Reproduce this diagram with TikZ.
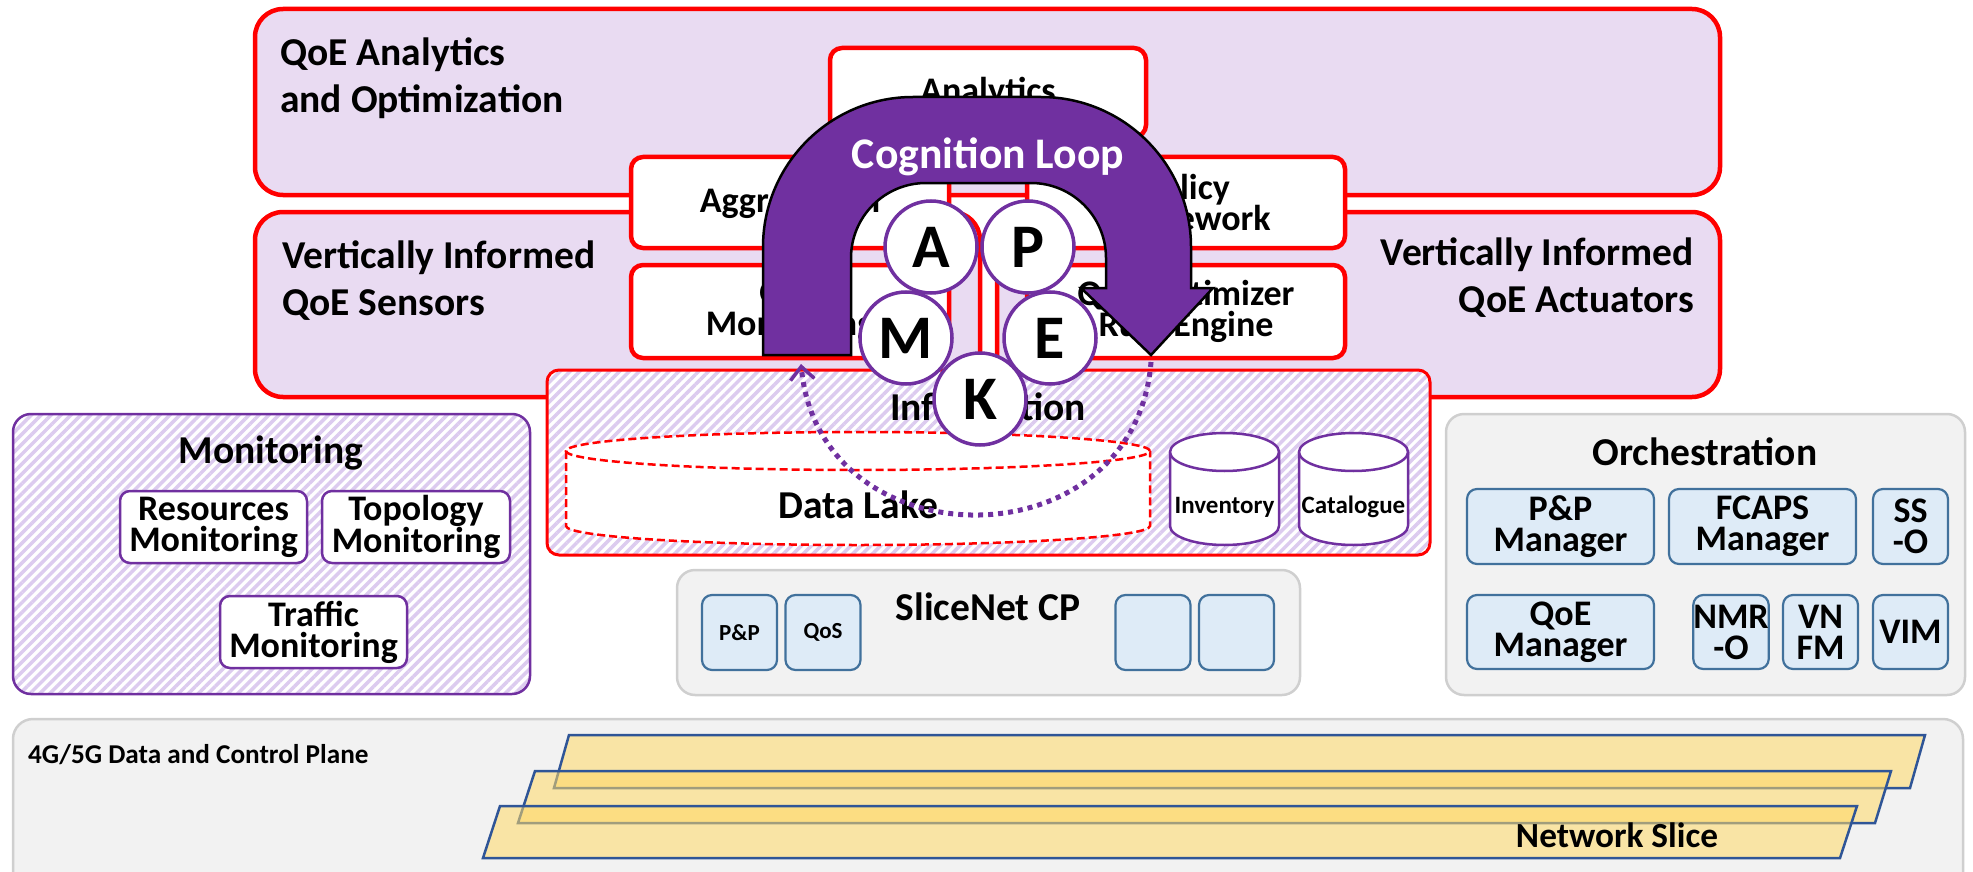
\documentclass[tikz,border=0pt]{standalone}
\usepackage{fontspec}
\setmainfont{Carlito}
\usetikzlibrary{patterns.meta,arrows.meta}
\definecolor{qred}{HTML}{FF0000}
\definecolor{lav}{HTML}{E9DBF2}
\definecolor{hatch}{HTML}{DCCBEF}
\definecolor{qpurple}{HTML}{7030A0}
\definecolor{gfill}{HTML}{F2F2F2}
\definecolor{gborder}{HTML}{CFCFCF}
\definecolor{lblue}{HTML}{DEEBF7}
\definecolor{qblue}{HTML}{41719C}
\definecolor{sliceyel}{HTML}{FFD966}
\definecolor{sliceblue}{HTML}{2F5597}
\newcommand\mycyl[6]{%
  \path[#6] ({#1-#4},#2) -- ({#1-#4},#3) .. controls ({#1-#4},{#3+0.5523*#5}) and ({#1-0.5523*#4},{#3+#5}) .. (#1,{#3+#5}) .. controls ({#1+0.5523*#4},{#3+#5}) and ({#1+#4},{#3+0.5523*#5}) .. ({#1+#4},#3) -- ({#1+#4},#2);
  \path[#6] (#1,#2) ellipse [x radius=#4pt, y radius=#5pt];}
\begin{document}
\begin{tikzpicture}[x=1pt,y=-1pt,
  bigfont/.style={font=\fontsize{39.5}{47}\selectfont\bfseries},
  boxfont/.style={font=\fontsize{36}{31}\selectfont\bfseries},
  layerbox/.style={draw=qred, line width=4.5pt, fill=lav, rounded corners=28pt, inner sep=0pt},
  wbox/.style={draw=qred, line width=4.5pt, fill=white, rounded corners=12pt, boxfont, align=center, inner sep=0pt},
  hatchfill/.style={preaction={fill=white}, pattern={Lines[angle=45,distance=7pt,line width=3.5pt]}, pattern color=hatch},
  pbox/.style={draw=qpurple, line width=2.5pt, fill=white, rounded corners=10pt, boxfont, align=center, inner sep=0pt},
  bbox/.style={draw=qblue, line width=2.2pt, fill=lblue, rounded corners=10pt, boxfont, align=center, inner sep=0pt},
  graybox/.style={draw=gborder, line width=2.5pt, fill=gfill, rounded corners=18pt, inner sep=0pt},
  letter/.style={circle, draw=qpurple, line width=3.5pt, fill=white, minimum size=92pt, inner sep=0pt, font=\fontsize{62}{62}\selectfont\bfseries},
  slice/.style={fill=sliceyel, fill opacity=0.55, draw=sliceblue, line width=2.5pt},
  dotarrow/.style={draw=qpurple, line width=5pt, dash pattern=on 5pt off 5pt, -{Straight Barb[length=13pt,width=24pt,line width=3.5pt]}}
]
\useasboundingbox (0,0) rectangle (1973,872);
% layers
\node[layerbox, minimum width=1465pt, minimum height=186pt] (qoeao) at (987.5,102) {};
\node[layerbox, minimum width=725pt, minimum height=185pt] (sens) at (617.5,304.5) {};
\node[layerbox, minimum width=723pt, minimum height=185pt] (act) at (1358.5,304.5) {};
\node[bigfont, align=left, anchor=west, inner sep=0pt] (qoeaot) at (280,78) {QoE Analytics\\and Optimization};
\node[bigfont, align=left, anchor=west, inner sep=0pt] (senst) at (282,281) {Vertically Informed\\QoE Sensors};
\node[bigfont, align=right, anchor=east, inner sep=0pt] (actt) at (1694,278) {Vertically Informed\\QoE Actuators};
% white function boxes
\node[wbox, minimum width=316pt, minimum height=89pt] (anl) at (988,92.5) {Analytics};
\node[wbox, minimum width=318pt, minimum height=91pt] (agg) at (790,202.5) {Aggregation};
\node[wbox, minimum width=318pt, minimum height=91pt] (pol) at (1186,202.5) {Policy\\Framework};
\node[wbox, minimum width=318pt, minimum height=93pt] (qmon) at (790,311.5) {QoE\\Monitoring};
\node[wbox, minimum width=318pt, minimum height=93pt] (qopt) at (1186,311.5) {QoE Optimizer\\Rule Engine};
% information
\node[draw=qred, line width=3pt, rounded corners=12pt, hatchfill, minimum width=883pt, minimum height=185pt, inner sep=0pt] (infobox) at (988.5,462.5) {};
\node[bigfont, inner sep=0pt] (info) at (988,407) {Information};
\mycyl{858}{451}{526}{292}{19}{draw=qred, line width=2.5pt, dash pattern=on 8pt off 4pt, fill=white}
\mycyl{1224.5}{452}{526}{54.5}{19}{draw=qpurple, line width=2.5pt, fill=white}
\mycyl{1353.5}{452}{526}{54.5}{19}{draw=qpurple, line width=2.5pt, fill=white}
\node[font=\fontsize{39.5}{40}\selectfont\bfseries, inner sep=0pt] (dlake) at (858,505) {Data Lake};
\node[font=\fontsize{25}{25}\selectfont\bfseries, inner sep=0pt] (inv) at (1224.5,507) {Inventory};
\node[font=\fontsize{25}{25}\selectfont\bfseries, inner sep=0pt] (cat) at (1353.5,507) {Catalogue};
% monitoring
\node[draw=qpurple, line width=2.5pt, rounded corners=18pt, hatchfill, minimum width=517pt, minimum height=280pt, inner sep=0pt] (mon) at (271.5,554) {};
\node[bigfont, inner sep=0pt] (mont) at (271,453) {Monitoring};
\node[pbox, minimum width=187pt, minimum height=72pt] (resm) at (213.5,527) {Resources\\Monitoring};
\node[pbox, minimum width=188pt, minimum height=72pt] (topm) at (416,527) {Topology\\Monitoring};
\node[pbox, minimum width=187pt, minimum height=72pt] (trm) at (313.5,632) {Traffic\\Monitoring};
% orchestration
\node[graybox, minimum width=519pt, minimum height=281pt] (orch) at (1705.5,554.5) {};
\node[bigfont, inner sep=0pt] (orcht) at (1705,452) {Orchestration};
\node[bbox, minimum width=187pt, minimum height=75pt] (ppm) at (1560.5,526.5) {P\&P\\Manager};
\node[bbox, minimum width=187pt, minimum height=75pt] (fcaps) at (1762.5,526.5) {FCAPS\\Manager};
\node[bbox, minimum width=75pt, minimum height=75pt] (sso) at (1910.5,526.5) {SS\\-O};
\node[bbox, minimum width=187pt, minimum height=74pt] (qoem) at (1560.5,632) {QoE\\Manager};
\node[bbox, minimum width=74pt, minimum height=74pt] (nmro) at (1731,632) {NMR\\-O};
\node[bbox, minimum width=75pt, minimum height=74pt] (vnfm) at (1820.5,632) {VN\\FM};
\node[bbox, minimum width=75pt, minimum height=74pt] (vim) at (1910.5,632) {VIM};
% slicenet cp
\node[graybox, minimum width=623pt, minimum height=125pt] (cp) at (988.5,632.5) {};
\node[bigfont, inner sep=0pt] (cpt) at (988,607) {SliceNet CP};
\node[bbox, font=\fontsize{23}{23}\selectfont\bfseries, minimum width=75pt, minimum height=75pt] (cpp) at (739.5,632.5) {P\&P};
\node[bbox, font=\fontsize{23}{23}\selectfont\bfseries, minimum width=75pt, minimum height=75pt] (cqos) at (823,632.5) {QoS};
\node[bbox, minimum width=75pt, minimum height=75pt] (ce1) at (1153,632.5) {};
\node[bbox, minimum width=75pt, minimum height=75pt] (ce2) at (1236.5,632.5) {};
% data plane
\node[graybox, rounded corners=20pt, minimum width=1950pt, minimum height=181pt] (dp) at (988,809.5) {};
\node[font=\fontsize{27.2}{27}\selectfont\bfseries, anchor=west, inner sep=0pt] (dpt) at (28,755) {4G/5G Data and Control Plane};
\path[slice] (569,735) -- (1925,735) -- (1910,788) -- (554,788) -- cycle;
\path[slice] (535,771) -- (1891,771) -- (1875,823) -- (518,823) -- cycle;
\path[slice] (500,806) -- (1857,806) -- (1840,858) -- (483,858) -- cycle;
\node[font=\fontsize{35.3}{35}\selectfont\bfseries, inner sep=0pt] (nst) at (1617,835) {Network Slice};
% cognition loop arrow
\path[fill=qpurple, draw=black, line width=2.5pt] (763,355) -- (763,247) .. controls (763,164.2) and (830.2,97) .. (913,97) -- (1041,97) .. controls (1123.8,97) and (1191,164.2) .. (1191,247) -- (1191,288) -- (1213,288) -- (1151,355) -- (1081,288) -- (1106,288) -- (1106,258) .. controls (1106,216.6) and (1072.4,183) .. (1031,183) -- (926,183) .. controls (884.6,183) and (851,216.6) .. (851,258) -- (851,355) -- cycle;
\node[font=\fontsize{43.7}{44}\selectfont\bfseries, text=white, anchor=base, inner sep=0pt] (cogn) at (988,168) {Cognition Loop};
\node[letter] (la) at (931,247) {A};
\node[letter] (lp) at (1028,247) {P};
\node[letter] (lm) at (906,338) {M};
\node[letter] (le) at (1050,338) {E};
\node[letter] (lk) at (980,399) {K};
% dotted loop
\coordinate (loopend) at (1151,362);
\coordinate (loopstart) at (801,364);
\draw[dotarrow] (loopend) .. controls (1135,565) and (820,565) .. (loopstart);
\end{tikzpicture}
\end{document}
